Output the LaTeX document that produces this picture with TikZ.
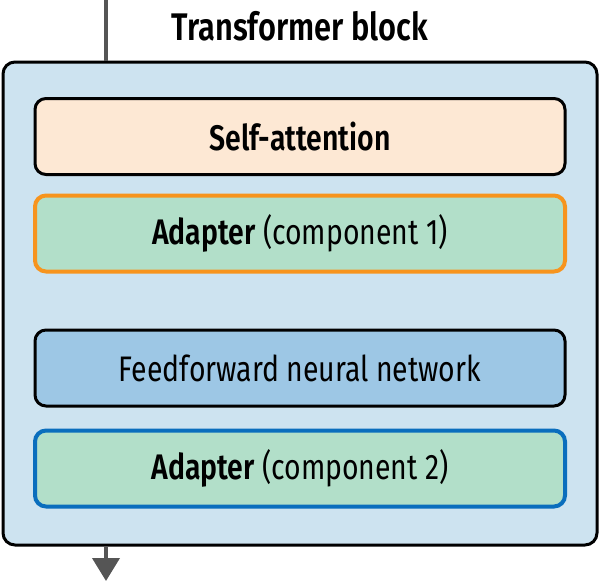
\documentclass[tikz,border=0pt]{standalone}
\usepackage{fontspec}
\setmainfont{Fira Sans}[FakeStretch=0.8,BoldFont={* SemiBold}]
\usetikzlibrary{arrows.meta}
\begin{document}
\begin{tikzpicture}[x=1pt,y=-1pt,
  layer/.style={rounded corners=11pt,minimum width=530pt,minimum height=76pt,inner sep=0pt,line width=3pt,font=\fontsize{35.5}{40}\selectfont},
  flow/.style={draw=lineColor,line width=4pt}]
\definecolor{fillColor}{RGB}{255,255,255}
\definecolor{blockColor}{RGB}{205,227,240}
\definecolor{attnColor}{RGB}{253,232,212}
\definecolor{adaptColor}{RGB}{178,223,201}
\definecolor{ffnColor}{RGB}{157,199,229}
\definecolor{orangeColor}{RGB}{247,148,29}
\definecolor{blueColor}{RGB}{10,110,189}
\definecolor{lineColor}{RGB}{85,85,85}
\path[use as bounding box,fill=fillColor] (0,0) rectangle (600,582);

\node[draw=black,fill=blockColor,rounded corners=12pt,line width=3pt,minimum width=594pt,minimum height=483pt,inner sep=0pt] (block) at (300,303.5) {};

\node[anchor=base,inner sep=0pt,font=\fontsize{38.5}{42}\selectfont\bfseries] (title) at (300,40) {Transformer block};

\node[layer,draw=black,fill=attnColor,font=\fontsize{35.5}{40}\selectfont\bfseries] (attn) at (300,136.5) {Self-attention};
\node[layer,draw=orangeColor,line width=4pt,fill=adaptColor] (adaptA) at (300,233.5) {\textbf{Adapter} (component 1)};
\node[layer,draw=black,fill=ffnColor] (ffn) at (300,368) {Feedforward neural network};
\node[layer,draw=blueColor,line width=4pt,fill=adaptColor] (adaptB) at (300,468.5) {\textbf{Adapter} (component 2)};

\coordinate (in) at (106,0);
\coordinate (out) at (106,581);
\draw[flow] (in) -- (in |- block.north);
\draw[flow,-{Triangle[length=23pt,width=27pt]}] (block.south -| out) -- (out);
\end{tikzpicture}
\end{document}
